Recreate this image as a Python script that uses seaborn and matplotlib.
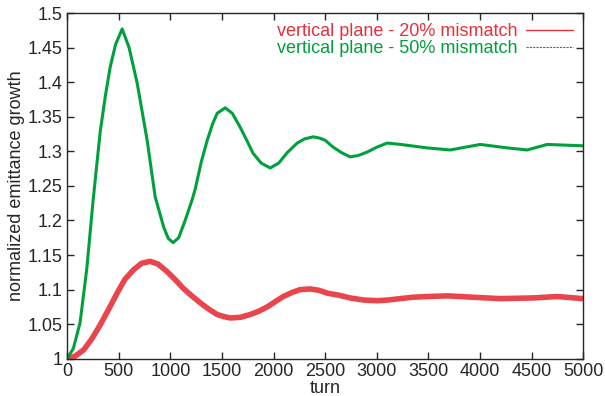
import seaborn as sns
import matplotlib.pyplot as plt
import pandas as pd
from matplotlib.lines import Line2D

# values
turn_20 = [0, 80, 161, 240, 320, 400, 484, 560, 645, 720, 804, 880, 969, 1050, 1124, 1200, 1289,
           1370, 1453, 1520, 1580, 1680, 1773, 1860, 1938, 2010, 2093, 2180, 2258, 2355, 2440,
           2519, 2630, 2742, 2870, 3004, 3110, 3227, 3350, 3488, 3682, 3934, 4196, 4516, 4748, 5000]
emit_20 = [1.0, 1.004, 1.013, 1.029, 1.049, 1.071, 1.095, 1.115, 1.129, 1.138, 1.141, 1.137, 1.126,
           1.114, 1.102, 1.092, 1.081, 1.072, 1.064, 1.061, 1.059, 1.060, 1.064, 1.069, 1.075, 1.082,
           1.090, 1.096, 1.100, 1.101, 1.099, 1.095, 1.092, 1.088, 1.085, 1.084, 1.085, 1.087,
           1.089, 1.090, 1.091, 1.089, 1.087, 1.088, 1.090, 1.087]

turn_50 = [0, 60, 125, 190, 252, 320, 370, 417, 470, 533, 600, 678, 775, 853, 936, 980, 1027, 1080,
           1143, 1211, 1240, 1300, 1357, 1410, 1453, 1531, 1600, 1676, 1740, 1802, 1880, 1967, 2050,
           2131, 2229, 2300, 2384, 2450, 2500, 2578, 2660, 2742, 2820, 2907, 3000, 3101, 3230, 3488,
           3711, 4002, 4263, 4457, 4651, 5000]
emit_50 = [1.0, 1.015, 1.052, 1.13, 1.23, 1.328, 1.38, 1.422, 1.455, 1.477, 1.45, 1.399, 1.316,
           1.234, 1.19, 1.174, 1.168, 1.175, 1.20, 1.23, 1.245, 1.285, 1.316, 1.34, 1.355, 1.363,
           1.355, 1.335, 1.316, 1.297, 1.283, 1.276, 1.283, 1.298, 1.312, 1.318, 1.321, 1.319,
           1.316, 1.306, 1.298, 1.292, 1.294, 1.299, 1.306, 1.312, 1.310, 1.305, 1.302, 1.310,
           1.305, 1.302, 1.310, 1.308]

labels = ["vertical plane - 20% mismatch", "vertical plane - 50% mismatch"]
red = "#e8303a"
green = "#00a03c"

df = pd.concat([
    pd.DataFrame({"turn": turn_20, "emit": emit_20, "case": labels[0]}),
    pd.DataFrame({"turn": turn_50, "emit": emit_50, "case": labels[1]}),
])

sns.set_style("ticks")
plt.rcParams["font.family"] = ["Liberation Sans", "DejaVu Sans"]
fs = 13

fig = plt.figure(figsize=(6.05, 3.96), dpi=100)
ax = fig.add_axes([0.111, 0.094, 0.853, 0.873])

sns.lineplot(data=df[df.case == labels[0]], x="turn", y="emit", color=red, lw=4,
             alpha=0.9, legend=False, ax=ax)
sns.lineplot(data=df[df.case == labels[1]], x="turn", y="emit", color=green, lw=2.2,
             legend=False, ax=ax)

ax.set_xlim(0, 5000)
ax.set_ylim(1, 1.5)
ax.set_xticks(range(0, 5001, 500))
ax.set_yticks([1 + 0.05 * i for i in range(11)])
ax.set_yticklabels(["1", "1.05", "1.1", "1.15", "1.2", "1.25", "1.3", "1.35", "1.4", "1.45", "1.5"])
ax.tick_params(direction="in", top=True, right=True, length=5, width=1, labelsize=fs, pad=3)
for s in ax.spines.values():
    s.set_linewidth(1)
ax.set_xlabel("turn", fontsize=fs, labelpad=0)
ax.set_ylabel("normalized emittance growth", fontsize=fs, labelpad=2)

handles = [Line2D([], [], color=red, lw=1), Line2D([], [], color=green, lw=0.8, ls=(0, (2, 1)))]
leg = ax.legend(handles, labels, loc="upper right", bbox_to_anchor=(1.0, 1.0), frameon=False,
                markerfirst=False, fontsize=fs, handlelength=2.6, handletextpad=0.5,
                labelspacing=0.0, borderaxespad=0.15)
for t, c in zip(leg.get_texts(), [red, green]):
    t.set_color(c)

fig.savefig("out.png", dpi=100)
